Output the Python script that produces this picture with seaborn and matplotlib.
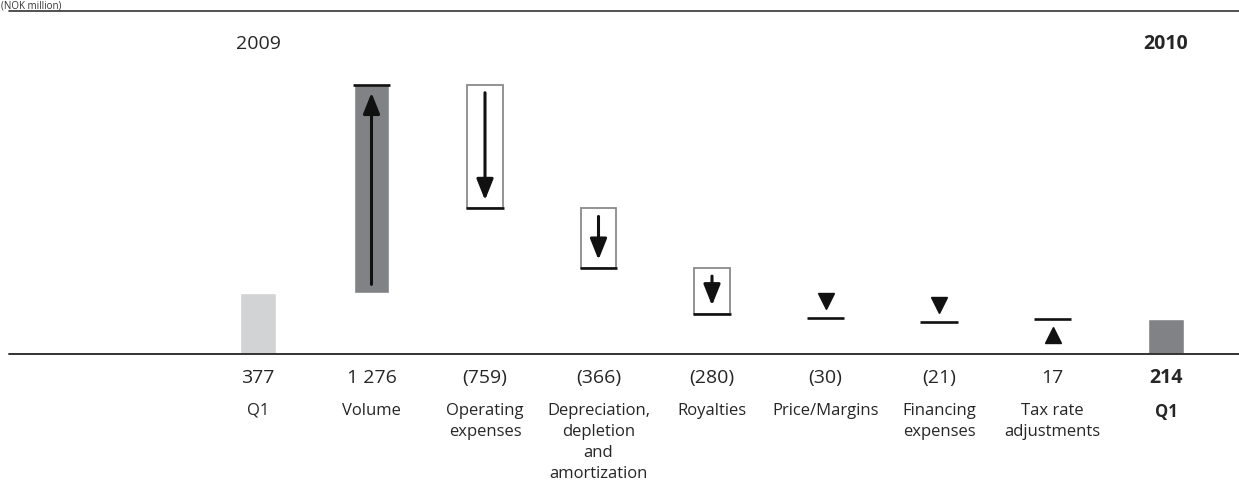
import matplotlib
matplotlib.use("Agg")
import matplotlib.pyplot as plt
from matplotlib.lines import Line2D
import pandas as pd
import seaborn as sns

# Data
keys = ["Q1 2009", "Volume", "Operating", "DD&A", "Royalties",
        "Price", "Financing", "Tax", "Q1 2010"]
cat_labels = ["Q1", "Volume", "Operating\nexpenses",
              "Depreciation,\ndepletion\nand\namortization", "Royalties",
              "Price/Margins", "Financing\nexpenses", "Tax rate\nadjustments", "Q1"]
value_labels = ["377", "1 276", "(759)", "(366)", "(280)", "(30)", "(21)", "17", "214"]
start_value = 377
changes = [1276, -759, -366, -280, -30, -21, 17]
end_value = 214

sns.set_style("white")
plt.rcParams["font.family"] = ["Open Sans", "DejaVu Sans"]

fig = plt.figure(figsize=(12.39, 4.89), dpi=100)
ax = fig.add_axes([0, 0, 1, 1])

# totals drawn with seaborn
totals = pd.DataFrame({"key": ["Q1 2009", "Q1 2010"], "value": [start_value, end_value]})
sns.barplot(data=totals, x="key", y="value", hue="key", order=keys,
            palette={"Q1 2009": "#d1d3d4", "Q1 2010": "#808285"},
            width=0.317, legend=False, ax=ax, saturation=1)

# floating changes
w = 0.317
level = start_value
inset = 50
arrow = dict(arrowstyle="-|>,head_length=0.75,head_width=0.3", lw=2.2,
             color="#111111", mutation_scale=17, shrinkA=0, shrinkB=0)
for i, d in enumerate(changes, start=1):
    new = level + d
    lo, hi = min(level, new), max(level, new)
    if abs(d) >= 100:
        if d > 0:
            ax.bar(i, d, bottom=level, width=w, color="#808285", zorder=2)
            ax.annotate("", xy=(i, hi - inset), xytext=(i, lo + inset),
                        arrowprops=arrow, zorder=3)
        else:
            ax.bar(i, -d, bottom=new, width=w, facecolor="white",
                   edgecolor="#8a8a8a", linewidth=1.3, zorder=2)
            ax.annotate("", xy=(i, lo + inset), xytext=(i, hi - inset),
                        arrowprops=arrow, zorder=3)
    else:
        if d < 0:
            ax.plot(i, new + 105, marker="v", ms=11.5, color="#111111", zorder=3)
        else:
            ax.plot(i, new - 95, marker="^", ms=11.5, color="#111111", zorder=3)
    ax.plot([i - 0.165, i + 0.165], [new, new], color="#111111", lw=1.9,
            solid_capstyle="butt", zorder=4)
    level = new

ax.set_xlim(-258 / 113.5, (1239 - 258) / 113.5)
ax.set_ylim(-822, 2178)
ax.axis("off")

# baseline and top rule
ax.axhline(0, xmin=9 / 1239, xmax=1, color="#333333", lw=1.4, zorder=5)
fig.add_artist(Line2D([9 / 1239, 1], [1 - 12 / 489] * 2, color="#333333", lw=1.2,
                      transform=fig.transFigure))

trans = ax.get_xaxis_transform()
ax.text(0, 1 - 44 / 489, "2009", transform=trans, ha="center", va="center", fontsize=14)
ax.text(8, 1 - 44 / 489, "2010", transform=trans, ha="center", va="center",
        fontsize=14, fontweight="bold")
for i, (v, c) in enumerate(zip(value_labels, cat_labels)):
    bold = "bold" if i == len(keys) - 1 else "normal"
    ax.text(i, 1 - 378 / 489, v, transform=trans, ha="center", va="center",
            fontsize=14, fontweight=bold)
    ax.text(i, 1 - 403 / 489, c, transform=trans, ha="center", va="top",
            fontsize=12, fontweight=bold, linespacing=1.42)

fig.text(0.001, 0.999, "(NOK million)", ha="left", va="top", fontsize=7, color="#333333")

fig.savefig("out.png", dpi=100)
